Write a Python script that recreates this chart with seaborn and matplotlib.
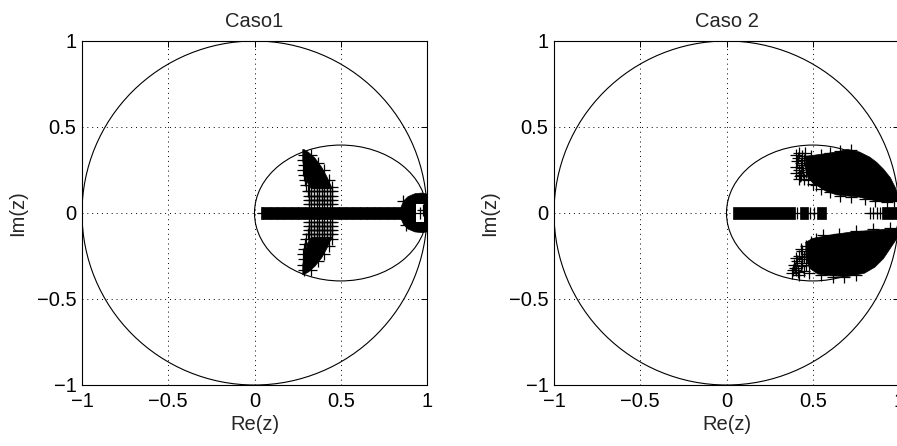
import matplotlib
matplotlib.use("Agg")
import matplotlib.pyplot as plt
import seaborn as sns
import pandas as pd
from matplotlib.patches import Circle, Ellipse, Polygon

# ---------------- data ----------------
titles = ["Caso1", "Caso 2"]
tick_values = [-1, -0.5, 0, 0.5, 1]
tick_labels = ["\u22121", "\u22120.5", "0", "0.5", "1"]

unit_circle = (0.0, 0.0, 1.0)            # centre x, centre y, radius
inner_ellipse = (0.5, 0.0, 1.0, 0.79)    # centre x, centre y, width, height

# Caso 1 : dense (solid) regions as polygons
c1_regions = [
    [(0.035, -0.032), (0.87, -0.032), (0.87, 0.032), (0.035, 0.032)],
    [(0.28, 0.37), (0.31, 0.355), (0.35, 0.32), (0.39, 0.265), (0.42, 0.21),
     (0.44, 0.165), (0.45, 0.14), (0.33, 0.14), (0.305, 0.18), (0.29, 0.24), (0.28, 0.30)],
    [(0.28, -0.36), (0.31, -0.345), (0.35, -0.31), (0.39, -0.26), (0.42, -0.205),
     (0.44, -0.16), (0.45, -0.14), (0.33, -0.14), (0.305, -0.18), (0.29, -0.24), (0.28, -0.30)],
    [(0.85, 0.035), (0.865, 0.07), (0.89, 0.095), (0.93, 0.112), (0.97, 0.116), (1.0, 0.11),
     (1.0, -0.11), (0.97, -0.114), (0.93, -0.11), (0.89, -0.093), (0.865, -0.068), (0.85, -0.035)],
]
c1_holes = [
    [(0.935, 0.055), (0.985, 0.055), (0.985, -0.05), (0.935, -0.05)],
]
# lattice of crosses next to the real axis (upper and lower halves)
c1_lattice_x = [0.315, 0.33, 0.345, 0.36, 0.375, 0.39, 0.405, 0.42, 0.435, 0.45]
c1_lattice_y = [0.05, 0.075, 0.10, 0.125, -0.05, -0.075, -0.10, -0.125]
c1_x = [0.05, 0.09, 0.13, 0.17, 0.21, 0.25, 0.29, 0.33, 0.37, 0.41, 0.45, 0.49, 0.53,
        0.57, 0.61, 0.65, 0.69, 0.73, 0.77, 0.81, 0.85,
        0.285, 0.28, 0.285, 0.28, 0.285, 0.29, 0.30, 0.31,
        0.285, 0.28, 0.285, 0.28, 0.285, 0.29, 0.30, 0.31,
        0.33, 0.37, 0.40, 0.43, 0.45, 0.33, 0.37, 0.40, 0.43, 0.45,
        0.96, 0.975, 0.86, 0.88]
c1_y = [0.0] * 21 + \
       [0.34, 0.31, 0.28, 0.25, 0.22, 0.19, 0.16, 0.13,
        -0.33, -0.30, -0.27, -0.24, -0.21, -0.18, -0.15, -0.12,
        0.34, 0.29, 0.25, 0.19, 0.15, -0.33, -0.28, -0.24, -0.19, -0.15,
        0.0, 0.02, 0.07, -0.07]

# Caso 2 : dense (solid) regions as polygons
c2_regions = [
    [(0.036, -0.032), (0.395, -0.032), (0.395, 0.032), (0.036, 0.032)],
    [(0.425, -0.032), (0.47, -0.032), (0.47, 0.032), (0.425, 0.032)],
    [(0.525, -0.032), (0.575, -0.032), (0.575, 0.032), (0.525, 0.032)],
    [(0.90, -0.032), (1.0, -0.032), (1.0, 0.032), (0.90, 0.032)],
    [(0.46, 0.33), (0.54, 0.34), (0.64, 0.355), (0.70, 0.37), (0.77, 0.355), (0.83, 0.325),
     (0.87, 0.295), (0.91, 0.255), (0.95, 0.205), (0.98, 0.145), (1.0, 0.09), (1.0, 0.07),
     (0.91, 0.062), (0.83, 0.078), (0.77, 0.092), (0.64, 0.105), (0.58, 0.125),
     (0.54, 0.15), (0.50, 0.175), (0.47, 0.21), (0.455, 0.27)],
    [(0.46, -0.17), (0.50, -0.148), (0.60, -0.128), (0.735, -0.109), (0.87, -0.099),
     (1.0, -0.088), (1.0, -0.12), (0.99, -0.145), (0.95, -0.205), (0.91, -0.265),
     (0.86, -0.315), (0.80, -0.35), (0.70, -0.37), (0.60, -0.365), (0.53, -0.355),
     (0.48, -0.32), (0.46, -0.26)],
]
c2_holes = []
c2_x = [0.41, 0.485, 0.51, 0.83, 0.85, 0.87, 0.89,
        0.40, 0.42, 0.44, 0.41, 0.43, 0.45, 0.40, 0.42, 0.44, 0.43, 0.45, 0.47, 0.42,
        0.46, 0.48, 0.50, 0.52, 0.55, 0.60, 0.66, 0.72, 0.80, 0.86, 0.93, 0.97, 0.55,
        0.60, 0.66, 0.72, 0.49, 0.415, 0.435, 0.405, 0.425, 0.445, 0.455,
        0.38, 0.40, 0.42, 0.39, 0.41, 0.43, 0.45, 0.42, 0.44, 0.46, 0.44, 0.47, 0.46,
        0.48, 0.49, 0.52, 0.55, 0.62, 0.68, 0.75, 0.56, 0.65, 0.75, 0.85, 0.95,
        0.395, 0.415, 0.435, 0.385, 0.405, 0.43, 0.45]
c2_y = [0.0] * 7 + \
       [0.34, 0.35, 0.33, 0.30, 0.29, 0.31, 0.27, 0.25, 0.26, 0.22, 0.20, 0.19, 0.20,
        0.24, 0.28, 0.17, 0.16, 0.14, 0.12, 0.10, 0.095, 0.08, 0.07, 0.065, 0.07, 0.34,
        0.35, 0.36, 0.365, 0.33, 0.32, 0.28, 0.23, 0.215, 0.24, 0.35,
        -0.35, -0.33, -0.36, -0.30, -0.28, -0.31, -0.34, -0.25, -0.22, -0.19, -0.27,
        -0.24, -0.30, -0.35, -0.17, -0.15, -0.36, -0.37, -0.37, -0.36, -0.13, -0.12,
        -0.105, -0.095, -0.09,
        -0.32, -0.345, -0.29, -0.33, -0.26, -0.21, -0.255]

panels = [(c1_regions, c1_holes, c1_x, c1_y, c1_lattice_x, c1_lattice_y),
          (c2_regions, c2_holes, c2_x, c2_y, [], [])]

# ---------------- drawing ----------------
sns.set_style("white")
plt.rcParams["font.family"] = ["Liberation Sans", "DejaVu Sans"]
plt.rcParams["axes.unicode_minus"] = True
FS = 14.5

fig = plt.figure(figsize=(8.97, 4.46), dpi=100)
ax_rects = [[82 / 897, 61 / 446, 345 / 897, 344 / 446],
            [554 / 897, 61 / 446, 345 / 897, 344 / 446]]

for rect, title, (regions, holes, px, py, lx, ly) in zip(ax_rects, titles, panels):
    ax = fig.add_axes(rect)
    ax.set_xlim(-1, 1)
    ax.set_ylim(-1, 1)
    ax.set_xticks(tick_values)
    ax.set_xticklabels(tick_labels)
    ax.set_yticks(tick_values)
    ax.set_yticklabels(tick_labels)
    ax.grid(True, color="black", linestyle=(0, (1, 4)), linewidth=0.7)
    ax.set_axisbelow(True)
    ax.tick_params(direction="in", top=True, right=True, length=4, width=0.7,
                   labelsize=FS, colors="black", pad=4)
    ax.tick_params(axis="x", pad=5)
    for s in ax.spines.values():
        s.set_color("black")
        s.set_linewidth(0.8)

    cx, cy, r = unit_circle
    ax.add_patch(Circle((cx, cy), r, fill=False, edgecolor="black", linewidth=0.8, zorder=2))
    ex, ey, ew, eh = inner_ellipse
    ax.add_patch(Ellipse((ex, ey), ew, eh, fill=False, edgecolor="black", linewidth=0.8, zorder=2))

    for poly in regions:
        ax.add_patch(Polygon(poly, closed=True, facecolor="black", edgecolor="black",
                             linewidth=0.5, zorder=3))
    for poly in holes:
        ax.add_patch(Polygon(poly, closed=True, facecolor="white", edgecolor="none", zorder=3.5))

    all_x = list(px) + [x for y in ly for x in lx]
    all_y = list(py) + [y for y in ly for x in lx]
    df = pd.DataFrame({"re": all_x, "im": all_y})
    sns.scatterplot(data=df, x="re", y="im", marker="+", s=75, color="black",
                    linewidth=0.9, ax=ax, zorder=4)

    ax.set_title(title, fontsize=FS, pad=10)
    ax.set_xlabel("Re(z)", fontsize=FS, labelpad=3)
    ax.set_ylabel("Im(z)", fontsize=FS, labelpad=7)

fig.savefig("out.png", dpi=100)
